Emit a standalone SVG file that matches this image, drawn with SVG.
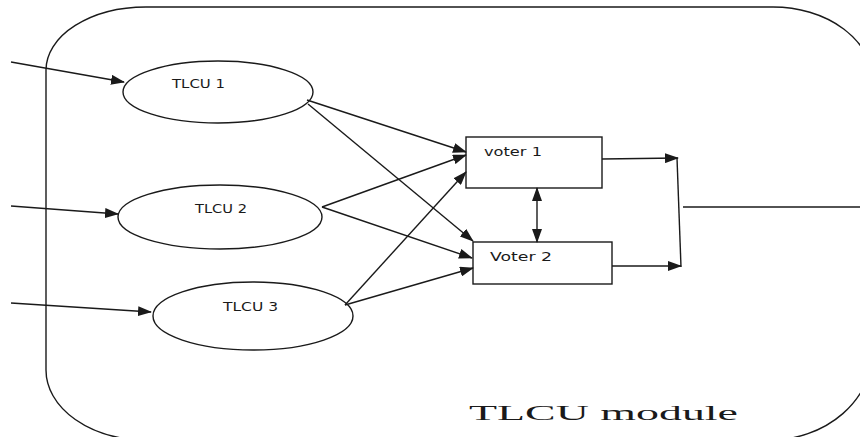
<svg xmlns="http://www.w3.org/2000/svg" width="860" height="437" viewBox="0 0 860 437">
  <style>
    .shape { fill: #fff; stroke: #1a1a1a; stroke-width: 1.4; }
    .wire { fill: none; stroke: #1a1a1a; stroke-width: 1.4; }
    .lbl { font-family: "DejaVu Sans", Verdana, sans-serif; font-size: 11.5px; fill: #1a1a1a; }
    .title { font-family: "Liberation Serif", "Times New Roman", serif; font-size: 21px; fill: #1a1a1a; }
  </style>
  <defs>
    <marker id="arrow" markerUnits="userSpaceOnUse" markerWidth="14" markerHeight="10" refX="13" refY="5" orient="auto-start-reverse" viewBox="0 0 14 10">
      <path d="M0,0 L14,5 L0,10 Z" fill="#1a1a1a"/>
    </marker>
  </defs>
  <rect width="860" height="437" fill="#fff"/>

  <!-- module boundary -->
  <g id="module">
    <path class="wire" d="M146,7 H773 A100 75 0 0 1 873 82 V350 A103 90 0 0 1 770 440 H146 A100 70 0 0 1 46 370 V70 A100 63 0 0 1 146 7 Z"/>
    <text class="title" x="469" y="420" textLength="269" lengthAdjust="spacingAndGlyphs">TLCU module</text>
  </g>

  <g id="tlcu1">
    <ellipse class="shape" cx="218" cy="92" rx="95" ry="31"/>
    <text class="lbl" x="172" y="88" textLength="53" lengthAdjust="spacingAndGlyphs">TLCU 1</text>
  </g>
  <g id="tlcu2">
    <ellipse class="shape" cx="220" cy="217" rx="102" ry="32"/>
    <text class="lbl" x="195" y="213" textLength="52" lengthAdjust="spacingAndGlyphs">TLCU 2</text>
  </g>
  <g id="tlcu3">
    <ellipse class="shape" cx="253" cy="316" rx="100" ry="34"/>
    <text class="lbl" x="223" y="311" textLength="55" lengthAdjust="spacingAndGlyphs">TLCU 3</text>
  </g>
  <g id="voter1">
    <rect class="shape" x="466" y="137" width="136" height="51"/>
    <text class="lbl" x="484" y="156" textLength="58" lengthAdjust="spacingAndGlyphs">voter 1</text>
  </g>
  <g id="voter2">
    <rect class="shape" x="473" y="242" width="139" height="42"/>
    <text class="lbl" x="490" y="261" textLength="62" lengthAdjust="spacingAndGlyphs">Voter 2</text>
  </g>

  <g id="connectors">
    <!-- inputs -->
    <line class="wire" x1="11" y1="62" x2="124" y2="82" marker-end="url(#arrow)"/>
    <line class="wire" x1="11" y1="206" x2="118" y2="214" marker-end="url(#arrow)"/>
    <line class="wire" x1="11" y1="303" x2="151" y2="312" marker-end="url(#arrow)"/>
    <!-- TLCU 1 -->
    <line class="wire" x1="307" y1="100" x2="466" y2="152" marker-end="url(#arrow)"/>
    <line class="wire" x1="308" y1="104" x2="473" y2="241" marker-end="url(#arrow)"/>
    <!-- TLCU 2 -->
    <line class="wire" x1="322" y1="207" x2="466" y2="155" marker-end="url(#arrow)"/>
    <line class="wire" x1="322" y1="207" x2="472" y2="258" marker-end="url(#arrow)"/>
    <!-- TLCU 3 -->
    <line class="wire" x1="345" y1="305" x2="466" y2="172" marker-end="url(#arrow)"/>
    <line class="wire" x1="345" y1="305" x2="473" y2="268" marker-end="url(#arrow)"/>
    <!-- voter link -->
    <line class="wire" x1="537" y1="188" x2="537" y2="242" marker-start="url(#arrow)" marker-end="url(#arrow)"/>
    <!-- outputs -->
    <line class="wire" x1="602" y1="159" x2="678" y2="158" marker-end="url(#arrow)"/>
    <line class="wire" x1="612" y1="266" x2="681" y2="266" marker-end="url(#arrow)"/>
    <line class="wire" x1="677" y1="158" x2="681" y2="267"/>
    <line class="wire" x1="683" y1="207" x2="860" y2="207"/>
  </g>
</svg>
